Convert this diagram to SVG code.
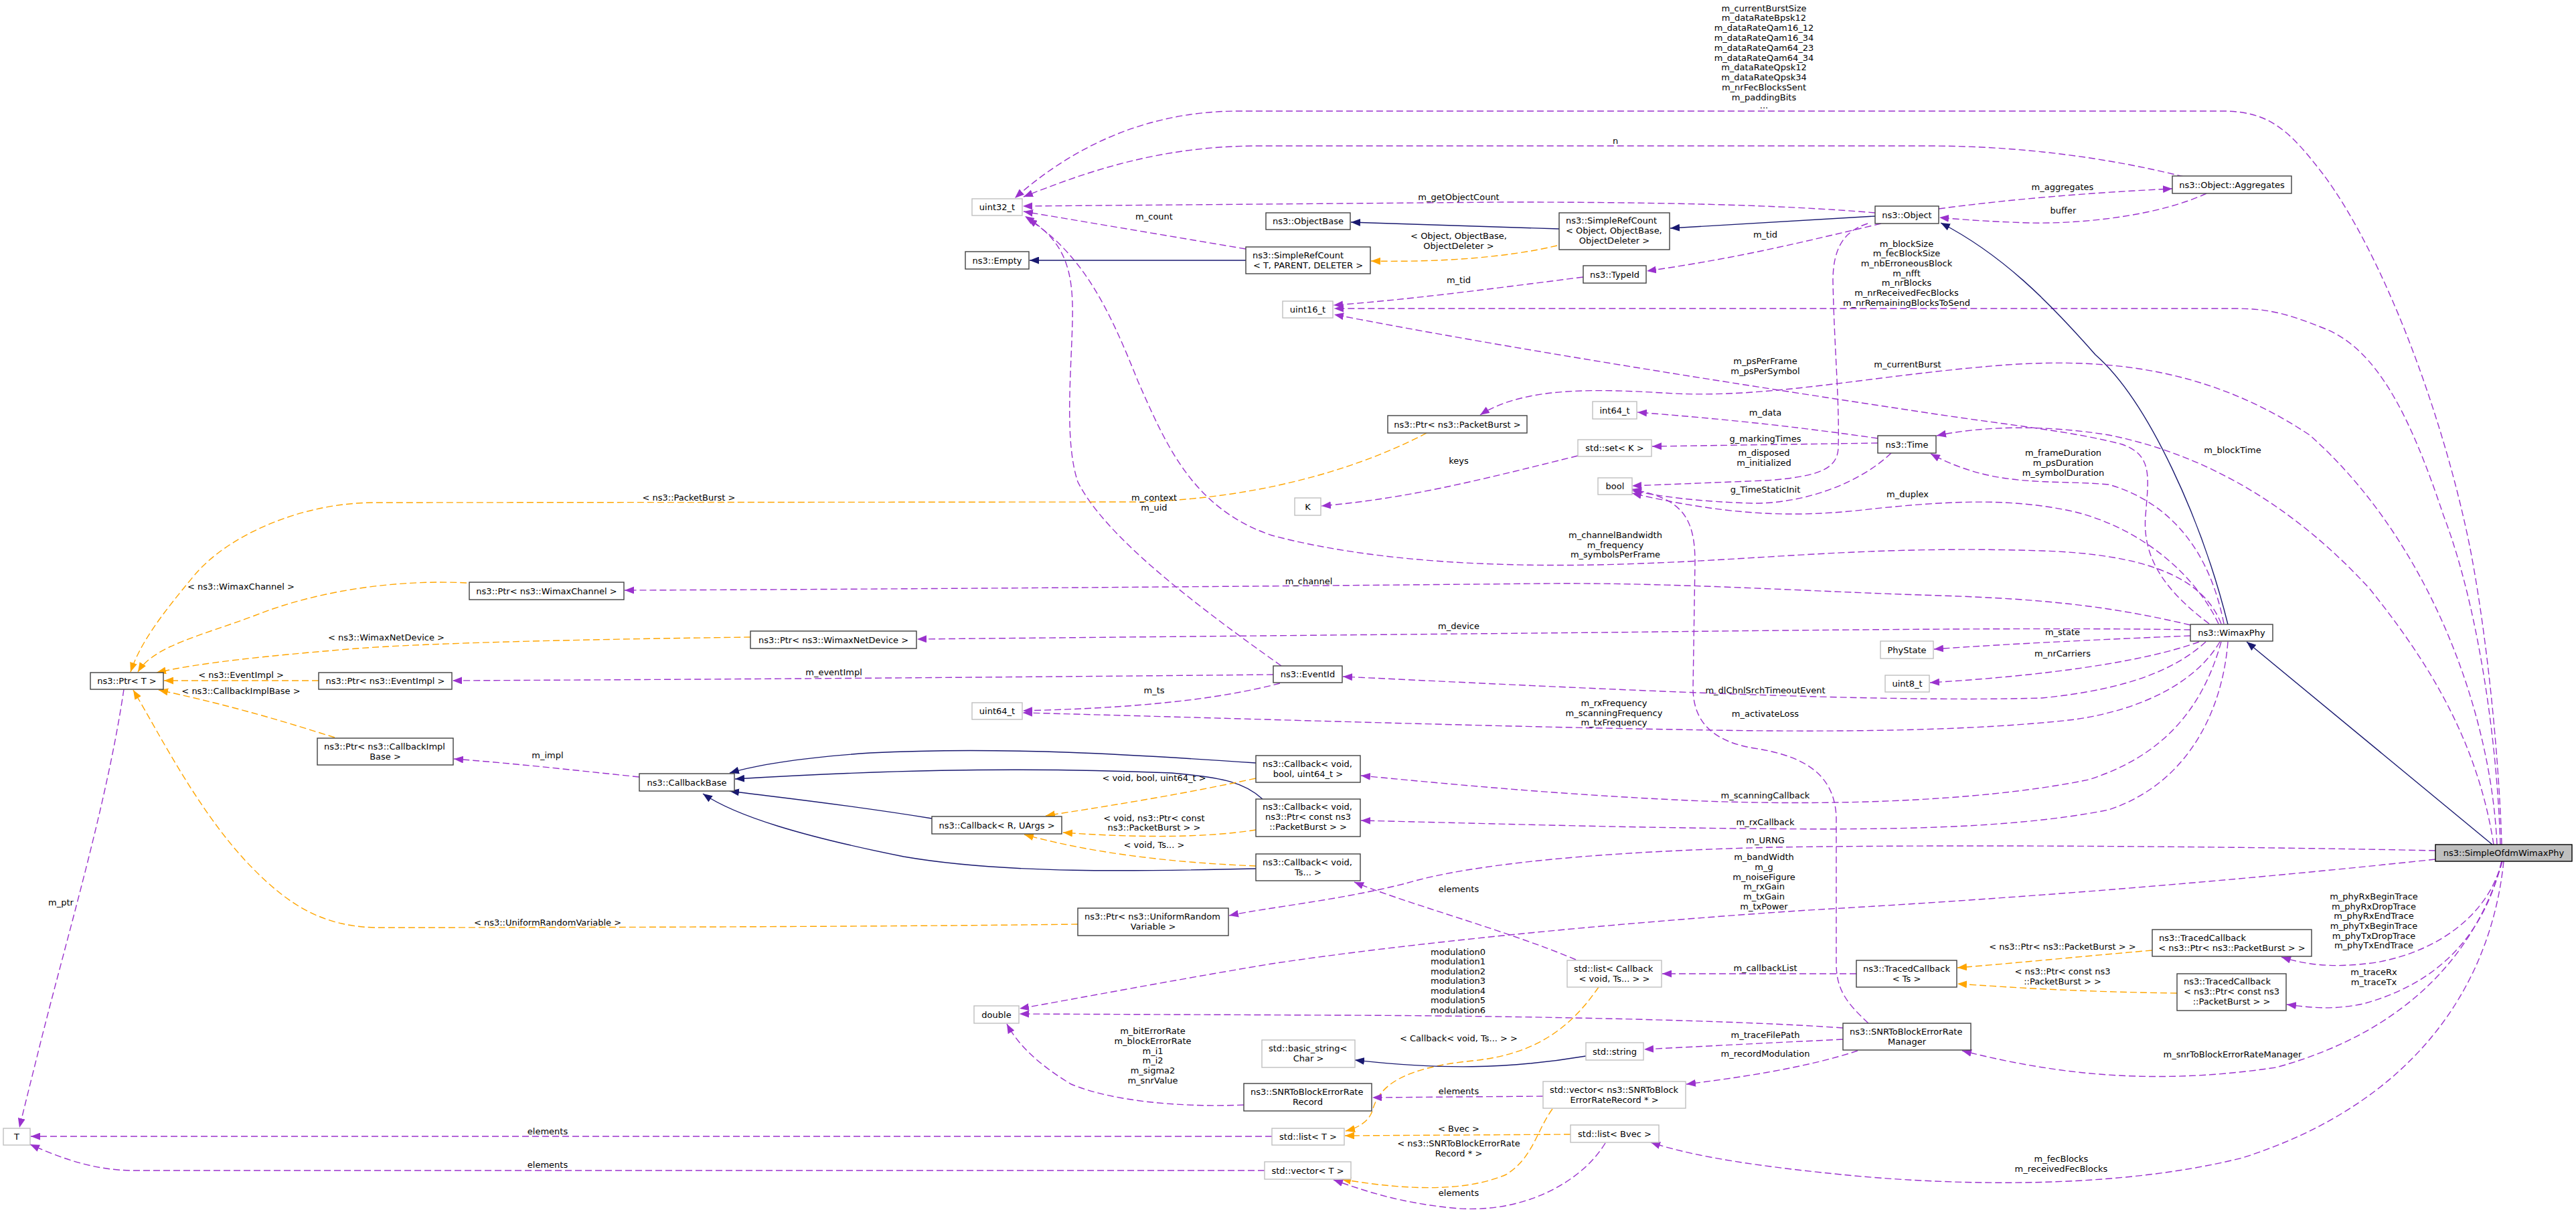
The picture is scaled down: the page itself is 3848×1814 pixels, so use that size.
<svg xmlns="http://www.w3.org/2000/svg" width="3848" height="1814" viewBox="0 0 3848 1814">
<style>
text{font-family:"DejaVu Sans","Liberation Sans",sans-serif;font-size:13px;fill:#000}
.node rect{fill:#fff;stroke:#404040;stroke-width:1.4}
.node.g rect{stroke:#bfbfbf}
.node.root rect{fill:#bfbfbf;stroke:#000}
.c{text-anchor:middle}
.ep{fill:none;stroke:#9a32cd;stroke-width:1.4;stroke-dasharray:10,5;marker-end:url(#mp)}
.eo{fill:none;stroke:#ffa500;stroke-width:1.4;stroke-dasharray:10,5;marker-end:url(#mo)}
.eb{fill:none;stroke:#191970;stroke-width:1.4;marker-end:url(#mb)}
.lbl text{text-anchor:middle}
</style>
<defs>
<marker id="mp" markerUnits="userSpaceOnUse" markerWidth="15" markerHeight="11" refX="14" refY="5.5" orient="auto"><path d="M0,0 L14,5.5 L0,11 z" fill="#9a32cd"/></marker>
<marker id="mo" markerUnits="userSpaceOnUse" markerWidth="15" markerHeight="11" refX="14" refY="5.5" orient="auto"><path d="M0,0 L14,5.5 L0,11 z" fill="#ffa500"/></marker>
<marker id="mb" markerUnits="userSpaceOnUse" markerWidth="15" markerHeight="11" refX="14" refY="5.5" orient="auto"><path d="M0,0 L14,5.5 L0,11 z" fill="#191970"/></marker>
</defs>
<rect width="3848" height="1814" fill="#fff"/>
<g id="edges">
<path class="ep" d="M3737,1262 C3733,1130 3715,950 3690,820 C3650,620 3560,380 3470,260 C3420,195 3390,166 3320,166 L1850,166 C1700,166 1590,230 1516,296"/>
<path class="ep" d="M3262,264 C3150,236 3020,218 2880,218 L1880,218 C1730,218 1620,258 1529,294"/>
<path class="ep" d="M2801,318 C2650,305 2450,302 2250,302 L1528,308"/>
<path class="ep" d="M1861,372 L1529,316"/>
<path class="ep" d="M1914,995 C1780,900 1650,800 1610,720 C1590,660 1600,560 1602,480 C1604,400 1590,360 1531,323"/>
<path class="ep" d="M3318,932 C3290,860 3200,828 3050,823 C2800,815 2650,835 2450,842 C2250,850 2050,840 1900,800 C1780,760 1740,660 1700,570 C1660,470 1620,380 1535,327"/>
<path class="ep" d="M2365,414 C2200,435 2100,448 1992,456"/>
<path class="ep" d="M3735,1262 C3730,1100 3700,900 3650,770 C3600,620 3550,520 3470,490 C3420,470 3390,461 3340,461 L1993,461"/>
<path class="ep" d="M3300,932 C3230,880 3200,830 3205,770 C3210,710 3215,680 3170,664 C3100,645 3000,635 2900,620 C2600,575 2250,520 1993,470"/>
<path class="ep" d="M2810,334 C2700,360 2600,385 2460,405"/>
<path class="eb" d="M2801,323 L2495,341"/>
<path class="eb" d="M2329,342 L2018,332"/>
<path class="eb" d="M1861,389 L1538,389"/>
<path class="eo" d="M2326,367 C2250,385 2150,392 2048,390"/>
<path class="ep" d="M2896,312 C3000,298 3120,288 3245,282"/>
<path class="ep" d="M3296,289 C3230,320 3120,335 3030,333 C2970,331 2930,328 2897,325"/>
<path class="eb" d="M3328,933 C3290,780 3210,600 3130,530 C3060,450 2990,380 2899,333"/>
<path class="eb" d="M3723,1262 L3356,959"/>
<path class="ep" d="M2805,655 C2700,640 2600,628 2446,616"/>
<path class="ep" d="M2805,662 L2468,667"/>
<path class="ep" d="M2357,681 C2200,720 2100,745 1974,756"/>
<path class="ep" d="M2825,677 C2780,720 2700,752 2620,752 C2540,750 2480,742 2438,733"/>
<path class="ep" d="M2790,334 C2755,345 2738,370 2738,420 C2740,520 2748,600 2746,670 C2744,700 2720,712 2638,718 L2438,726"/>
<path class="ep" d="M3314,932 C3280,860 3200,790 3100,765 C3000,742 2900,750 2800,760 C2700,772 2600,775 2438,737"/>
<path class="ep" d="M2791,1529 C2760,1500 2743,1480 2743,1440 L2743,1220 C2740,1160 2700,1130 2620,1118 C2560,1108 2530,1080 2529,1030 L2532,840 C2532,770 2510,745 2438,731"/>
<path class="ep" d="M3322,932 C3300,820 3240,750 3150,724 C3060,716 2980,730 2884,678"/>
<path class="ep" d="M3725,1262 C3700,1100 3620,980 3540,880 C3430,760 3300,680 3150,650 C3050,634 2960,637 2893,651"/>
<path class="ep" d="M3730,1262 C3720,1050 3620,800 3450,650 C3300,550 3150,535 3000,545 C2800,560 2650,595 2500,588 C2400,582 2280,575 2211,620"/>
<path class="eo" d="M2131,647 C2050,690 1900,745 1700,750 L560,751 C450,751 340,800 290,860 C240,920 210,960 195,1004"/>
<path class="eo" d="M697,871 C600,866 480,880 380,920 C300,950 230,965 206,1004"/>
<path class="eo" d="M1121,952 C900,955 640,960 520,970 C400,980 300,990 234,1005"/>
<path class="eo" d="M476,1017 L245,1017"/>
<path class="eo" d="M500,1102 C430,1080 350,1055 237,1031"/>
<path class="eo" d="M1610,1381 C1300,1385 800,1386 560,1386 C480,1384 430,1350 380,1300 C300,1220 240,1100 199,1031"/>
<path class="ep" d="M185,1030 C160,1200 100,1400 60,1560 C45,1620 35,1660 29,1685"/>
<path class="ep" d="M1902,1008 C1500,1012 1100,1015 676,1017"/>
<path class="ep" d="M1912,1021 C1820,1045 1700,1058 1528,1062"/>
<path class="ep" d="M3316,959 C3280,1020 3200,1060 3100,1075 C2950,1092 2750,1095 2500,1090 C2200,1085 1800,1072 1528,1065"/>
<path class="ep" d="M3295,959 C3250,1000 3180,1030 3050,1043 C2800,1050 2400,1030 2006,1011"/>
<path class="ep" d="M3285,959 C3200,990 3050,1010 2883,1020"/>
<path class="ep" d="M3272,950 C3150,955 3000,962 2889,970"/>
<path class="ep" d="M3272,941 C3100,938 2800,940 2400,945 L1370,955"/>
<path class="ep" d="M3272,934 C3150,905 3050,895 2900,890 C2700,884 2500,870 2300,872 C1900,876 1400,880 933,882"/>
<path class="ep" d="M3318,959 C3290,1060 3230,1130 3120,1165 C2950,1200 2700,1205 2500,1195 C2300,1185 2150,1170 2033,1159"/>
<path class="ep" d="M3328,959 C3320,1060 3270,1170 3150,1210 C3000,1240 2800,1240 2600,1238 C2400,1236 2200,1230 2033,1226"/>
<path class="ep" d="M955,1161 C850,1150 760,1140 678,1134"/>
<path class="eb" d="M1876,1140 C1700,1128 1500,1115 1300,1125 C1200,1132 1130,1143 1090,1155"/>
<path class="eb" d="M1886,1194 C1860,1170 1830,1162 1750,1155 C1500,1145 1300,1152 1098,1164"/>
<path class="eb" d="M1392,1223 C1250,1200 1150,1190 1090,1182"/>
<path class="eb" d="M1876,1298 C1700,1302 1500,1306 1350,1280 C1200,1250 1100,1220 1050,1186"/>
<path class="eo" d="M1876,1163 C1750,1190 1650,1205 1562,1219"/>
<path class="eo" d="M1876,1240 C1800,1252 1700,1252 1588,1244"/>
<path class="eo" d="M1876,1294 C1780,1290 1650,1280 1530,1247"/>
<path class="ep" d="M2354,1434 C2250,1390 2100,1350 2023,1318"/>
<path class="ep" d="M2773,1455 L2483,1455"/>
<path class="eo" d="M2388,1475 C2350,1530 2300,1575 2200,1585 C2100,1595 2060,1620 2050,1660 C2045,1675 2030,1685 2010,1690"/>
<path class="eo" d="M2346,1695 L2009,1697"/>
<path class="eo" d="M2319,1657 C2295,1690 2290,1730 2250,1755 C2180,1785 2080,1775 2004,1762"/>
<path class="ep" d="M2398,1708 C2360,1770 2270,1815 2170,1805 C2090,1797 2040,1780 1992,1763"/>
<path class="ep" d="M2305,1638 L2050,1640"/>
<path class="ep" d="M1900,1698 L46,1698"/>
<path class="ep" d="M1889,1749 L200,1749 C140,1749 90,1730 45,1710"/>
<path class="eb" d="M2369,1578 C2250,1598 2150,1598 2024,1584"/>
<path class="ep" d="M2753,1553 C2650,1558 2550,1563 2456,1568"/>
<path class="ep" d="M2775,1570 C2700,1595 2600,1610 2519,1620"/>
<path class="ep" d="M2753,1536 C2600,1525 2300,1518 2000,1517 L1523,1515"/>
<path class="ep" d="M1858,1651 C1760,1655 1660,1645 1600,1620 C1550,1590 1520,1560 1504,1530"/>
<path class="ep" d="M3638,1284 C3300,1320 3000,1343 2700,1360 C2400,1380 2100,1410 1900,1440 C1750,1465 1620,1490 1523,1507"/>
<path class="ep" d="M3638,1271 C3300,1264 2900,1262 2650,1266 C2400,1272 2200,1290 2100,1320 C2000,1345 1900,1355 1836,1368"/>
<path class="ep" d="M3737,1287 C3720,1360 3650,1420 3550,1438 C3480,1448 3440,1440 3408,1430"/>
<path class="ep" d="M3737,1287 C3710,1400 3640,1470 3530,1500 C3480,1510 3450,1505 3416,1501"/>
<path class="eo" d="M3215,1420 C3100,1430 3000,1440 2924,1446"/>
<path class="eo" d="M3252,1484 C3100,1482 3000,1475 2924,1470"/>
<path class="ep" d="M3738,1287 C3700,1420 3600,1540 3400,1595 C3200,1625 3050,1600 2931,1570"/>
<path class="ep" d="M3740,1287 C3720,1480 3600,1650 3350,1730 C3150,1780 2900,1770 2750,1755 C2600,1740 2520,1725 2466,1707"/>
</g>
<g id="labels" class="lbl">
<text x="2635" y="16.5">m_currentBurstSize</text>
<text x="2635" y="31.3">m_dataRateBpsk12</text>
<text x="2635" y="46.1">m_dataRateQam16_12</text>
<text x="2635" y="60.9">m_dataRateQam16_34</text>
<text x="2635" y="75.7">m_dataRateQam64_23</text>
<text x="2635" y="90.5">m_dataRateQam64_34</text>
<text x="2635" y="105.3">m_dataRateQpsk12</text>
<text x="2635" y="120.1">m_dataRateQpsk34</text>
<text x="2635" y="134.9">m_nrFecBlocksSent</text>
<text x="2635" y="149.7">m_paddingBits</text>
<text x="2635" y="162">...</text>
<text x="2413" y="215">n</text>
<text x="2179" y="299">m_getObjectCount</text>
<text x="1724" y="328">m_count</text>
<text x="2179" y="356.5">&lt; Object, ObjectBase,</text>
<text x="2179" y="371.5">ObjectDeleter &gt;</text>
<text x="2637" y="354.5">m_tid</text>
<text x="2179" y="422.5">m_tid</text>
<text x="3081" y="283.5">m_aggregates</text>
<text x="3082" y="318.5">buffer</text>
<text x="2848" y="368.5">m_blockSize</text>
<text x="2848" y="383.2">m_fecBlockSize</text>
<text x="2848" y="397.9">m_nbErroneousBlock</text>
<text x="2848" y="412.6">m_nfft</text>
<text x="2848" y="427.3">m_nrBlocks</text>
<text x="2848" y="442">m_nrReceivedFecBlocks</text>
<text x="2848" y="456.7">m_nrRemainingBlocksToSend</text>
<text x="2637" y="544">m_psPerFrame</text>
<text x="2637" y="559">m_psPerSymbol</text>
<text x="2849.5" y="549">m_currentBurst</text>
<text x="2637" y="621">m_data</text>
<text x="2637" y="660">g_markingTimes</text>
<text x="2635" y="680.5">m_disposed</text>
<text x="2635" y="695.5">m_initialized</text>
<text x="2179" y="692.5">keys</text>
<text x="2637" y="736">g_TimeStaticInit</text>
<text x="2849.5" y="743">m_duplex</text>
<text x="3082" y="681">m_frameDuration</text>
<text x="3082" y="696">m_psDuration</text>
<text x="3082" y="711">m_symbolDuration</text>
<text x="3335" y="676.5">m_blockTime</text>
<text x="1029" y="748">&lt; ns3::PacketBurst &gt;</text>
<text x="1724" y="748">m_context</text>
<text x="1724" y="763">m_uid</text>
<text x="2413" y="804">m_channelBandwidth</text>
<text x="2413" y="819">m_frequency</text>
<text x="2413" y="833">m_symbolsPerFrame</text>
<text x="360" y="880.5">&lt; ns3::WimaxChannel &gt;</text>
<text x="1955" y="873">m_channel</text>
<text x="2179" y="940">m_device</text>
<text x="577" y="956.5">&lt; ns3::WimaxNetDevice &gt;</text>
<text x="3081" y="949">m_state</text>
<text x="3081" y="981">m_nrCarriers</text>
<text x="360" y="1013">&lt; ns3::EventImpl &gt;</text>
<text x="1245.5" y="1009">m_eventImpl</text>
<text x="360" y="1037">&lt; ns3::CallbackImplBase &gt;</text>
<text x="1724" y="1035.5">m_ts</text>
<text x="2637" y="1036">m_dlChnlSrchTimeoutEvent</text>
<text x="2411" y="1055">m_rxFrequency</text>
<text x="2411" y="1070">m_scanningFrequency</text>
<text x="2411" y="1084">m_txFrequency</text>
<text x="2637" y="1071">m_activateLoss</text>
<text x="818" y="1132.5">m_impl</text>
<text x="1724" y="1166.5">&lt; void, bool, uint64_t &gt;</text>
<text x="2637" y="1192.5">m_scanningCallback</text>
<text x="1724" y="1226.5">&lt; void, ns3::Ptr&lt; const</text>
<text x="1724" y="1241">ns3::PacketBurst &gt; &gt;</text>
<text x="2637" y="1233">m_rxCallback</text>
<text x="2637" y="1260">m_URNG</text>
<text x="1724" y="1266.5">&lt; void, Ts... &gt;</text>
<text x="2635" y="1285">m_bandWidth</text>
<text x="2635" y="1300">m_g</text>
<text x="2635" y="1315">m_noiseFigure</text>
<text x="2635" y="1329">m_rxGain</text>
<text x="2635" y="1344">m_txGain</text>
<text x="2635" y="1359">m_txPower</text>
<text x="2179" y="1333">elements</text>
<text x="91" y="1353">m_ptr</text>
<text x="818" y="1382.5">&lt; ns3::UniformRandomVariable &gt;</text>
<text x="3546" y="1344">m_phyRxBeginTrace</text>
<text x="3546" y="1359">m_phyRxDropTrace</text>
<text x="3546" y="1373">m_phyRxEndTrace</text>
<text x="3546" y="1388">m_phyTxBeginTrace</text>
<text x="3546" y="1403">m_phyTxDropTrace</text>
<text x="3546" y="1417">m_phyTxEndTrace</text>
<text x="3081" y="1419">&lt; ns3::Ptr&lt; ns3::PacketBurst &gt; &gt;</text>
<text x="2178" y="1426.5">modulation0</text>
<text x="2178" y="1441">modulation1</text>
<text x="2178" y="1455.5">modulation2</text>
<text x="2178" y="1470">modulation3</text>
<text x="2178" y="1484.5">modulation4</text>
<text x="2178" y="1499">modulation5</text>
<text x="2178" y="1514">modulation6</text>
<text x="2637" y="1451">m_callbackList</text>
<text x="3081" y="1456">&lt; ns3::Ptr&lt; const ns3</text>
<text x="3081" y="1471">::PacketBurst &gt; &gt;</text>
<text x="3546" y="1457">m_traceRx</text>
<text x="3546" y="1472">m_traceTx</text>
<text x="1722" y="1544.5">m_bitErrorRate</text>
<text x="1722" y="1559.5">m_blockErrorRate</text>
<text x="1722" y="1574.5">m_i1</text>
<text x="1722" y="1589">m_i2</text>
<text x="1722" y="1604">m_sigma2</text>
<text x="1722" y="1618.5">m_snrValue</text>
<text x="2637" y="1551">m_traceFilePath</text>
<text x="2179" y="1555.5">&lt; Callback&lt; void, Ts... &gt; &gt;</text>
<text x="2637" y="1579">m_recordModulation</text>
<text x="3335" y="1580">m_snrToBlockErrorRateManager</text>
<text x="2179" y="1635">elements</text>
<text x="2179" y="1690.5">&lt; Bvec &gt;</text>
<text x="818" y="1694.5">elements</text>
<text x="2179" y="1713">&lt; ns3::SNRToBlockErrorRate</text>
<text x="2179" y="1728">Record * &gt;</text>
<text x="3079" y="1735.5">m_fecBlocks</text>
<text x="3079" y="1750.5">m_receivedFecBlocks</text>
<text x="818" y="1744.5">elements</text>
<text x="2179" y="1786.5">elements</text>
</g>
<g id="n_uint32" class="node g"><rect x="1452" y="297" width="75" height="25"/><text class="c" x="1489.5" y="314">uint32_t</text></g>
<g id="n_empty" class="node"><rect x="1442" y="376" width="95" height="26"/><text class="c" x="1489.5" y="393.5">ns3::Empty</text></g>
<g id="n_srcT" class="node"><rect x="1861" y="369" width="186" height="40"/><text x="1871" y="385.5">ns3::SimpleRefCount</text><text class="c" x="1954" y="400.5">&lt; T, PARENT, DELETER &gt;</text></g>
<g id="n_objectbase" class="node"><rect x="1891" y="318" width="126" height="25"/><text class="c" x="1954" y="335">ns3::ObjectBase</text></g>
<g id="n_srcObject" class="node"><rect x="2329" y="318" width="165" height="55"/><text x="2339" y="334">ns3::SimpleRefCount</text><text x="2339" y="349">&lt; Object, ObjectBase,</text><text class="c" x="2411.5" y="364">ObjectDeleter &gt;</text></g>
<g id="n_object" class="node"><rect x="2801" y="308" width="95" height="26"/><text class="c" x="2848.5" y="325.5">ns3::Object</text></g>
<g id="n_aggregates" class="node"><rect x="3245" y="263" width="178" height="26"/><text class="c" x="3334" y="280.5">ns3::Object::Aggregates</text></g>
<g id="n_typeid" class="node"><rect x="2365" y="397" width="94" height="26"/><text class="c" x="2412" y="414.5">ns3::TypeId</text></g>
<g id="n_uint16" class="node g"><rect x="1916" y="450" width="75" height="25"/><text class="c" x="1953.5" y="467">uint16_t</text></g>
<g id="n_int64" class="node g"><rect x="2379" y="600" width="66" height="26"/><text class="c" x="2412" y="617.5">int64_t</text></g>
<g id="n_ptrPB" class="node"><rect x="2073" y="621" width="208" height="26"/><text class="c" x="2177" y="638.5">ns3::Ptr&lt; ns3::PacketBurst &gt;</text></g>
<g id="n_setK" class="node g"><rect x="2357" y="657" width="110" height="25"/><text class="c" x="2412" y="674">std::set&lt; K &gt;</text></g>
<g id="n_K" class="node g"><rect x="1934" y="744" width="39" height="26"/><text class="c" x="1953.5" y="761.5">K</text></g>
<g id="n_bool" class="node g"><rect x="2387" y="714" width="51" height="25"/><text class="c" x="2412.5" y="731">bool</text></g>
<g id="n_time" class="node"><rect x="2805" y="651" width="87" height="26"/><text class="c" x="2848.5" y="668.5">ns3::Time</text></g>
<g id="n_phystate" class="node g"><rect x="2809" y="958" width="79" height="26"/><text class="c" x="2848.5" y="975.5">PhyState</text></g>
<g id="n_uint8" class="node g"><rect x="2816" y="1009" width="66" height="25"/><text class="c" x="2849" y="1026">uint8_t</text></g>
<g id="n_wimaxphy" class="node"><rect x="3272" y="933" width="123" height="25"/><text class="c" x="3333.5" y="950">ns3::WimaxPhy</text></g>
<g id="n_ptrWC" class="node"><rect x="701" y="870" width="231" height="26"/><text class="c" x="816.5" y="887.5">ns3::Ptr&lt; ns3::WimaxChannel &gt;</text></g>
<g id="n_ptrWND" class="node"><rect x="1121" y="943" width="248" height="26"/><text class="c" x="1245" y="960.5">ns3::Ptr&lt; ns3::WimaxNetDevice &gt;</text></g>
<g id="n_ptrT" class="node"><rect x="135" y="1005" width="109" height="25"/><text class="c" x="189.5" y="1022">ns3::Ptr&lt; T &gt;</text></g>
<g id="n_ptrEI" class="node"><rect x="476" y="1005" width="199" height="25"/><text class="c" x="575.5" y="1022">ns3::Ptr&lt; ns3::EventImpl &gt;</text></g>
<g id="n_eventid" class="node"><rect x="1902" y="995" width="103" height="25"/><text class="c" x="1953.5" y="1012">ns3::EventId</text></g>
<g id="n_uint64" class="node g"><rect x="1452" y="1050" width="75" height="25"/><text class="c" x="1489.5" y="1067">uint64_t</text></g>
<g id="n_ptrCIB" class="node"><rect x="474" y="1103" width="203" height="40"/><text x="484" y="1119.5">ns3::Ptr&lt; ns3::CallbackImpl</text><text class="c" x="575.5" y="1134.5">Base &gt;</text></g>
<g id="n_cbbase" class="node"><rect x="955" y="1156" width="142" height="26"/><text class="c" x="1026" y="1173.5">ns3::CallbackBase</text></g>
<g id="n_cbBool" class="node"><rect x="1876" y="1129" width="156" height="40"/><text x="1886" y="1145.5">ns3::Callback&lt; void,</text><text class="c" x="1954" y="1160.5">bool, uint64_t &gt;</text></g>
<g id="n_cbPtr" class="node"><rect x="1876" y="1194" width="156" height="56"/><text x="1886" y="1210">ns3::Callback&lt; void,</text><text x="1890" y="1225">ns3::Ptr&lt; const ns3</text><text class="c" x="1954" y="1240">::PacketBurst &gt; &gt;</text></g>
<g id="n_cbRU" class="node"><rect x="1392" y="1220" width="194" height="26"/><text class="c" x="1489" y="1237.5">ns3::Callback&lt; R, UArgs &gt;</text></g>
<g id="n_cbTs" class="node"><rect x="1876" y="1276" width="156" height="40"/><text x="1886" y="1292.5">ns3::Callback&lt; void,</text><text class="c" x="1954" y="1307.5">Ts... &gt;</text></g>
<g id="n_ptrURV" class="node"><rect x="1610" y="1357" width="225" height="41"/><text x="1620" y="1373.5">ns3::Ptr&lt; ns3::UniformRandom</text><text class="c" x="1722.5" y="1388.5">Variable &gt;</text></g>
<g id="n_double" class="node g"><rect x="1455" y="1503" width="67" height="26"/><text class="c" x="1488.5" y="1520.5">double</text></g>
<g id="n_basicstring" class="node g"><rect x="1885" y="1554" width="139" height="41"/><text x="1895" y="1570.5">std::basic_string&lt;</text><text class="c" x="1954.5" y="1585.5">Char &gt;</text></g>
<g id="n_record" class="node"><rect x="1858" y="1619" width="191" height="41"/><text x="1868" y="1635.5">ns3::SNRToBlockErrorRate</text><text class="c" x="1953.5" y="1650.5">Record</text></g>
<g id="n_listT" class="node g"><rect x="1900" y="1686" width="108" height="25"/><text class="c" x="1954" y="1703">std::list&lt; T &gt;</text></g>
<g id="n_vectorT" class="node g"><rect x="1889" y="1736" width="129" height="26"/><text class="c" x="1953.5" y="1753.5">std::vector&lt; T &gt;</text></g>
<g id="n_T" class="node g"><rect x="5" y="1686" width="40" height="25"/><text class="c" x="25" y="1703">T</text></g>
<g id="n_listCb" class="node g"><rect x="2341" y="1435" width="141" height="40"/><text x="2351" y="1451.5">std::list&lt; Callback</text><text class="c" x="2411.5" y="1466.5">&lt; void, Ts... &gt; &gt;</text></g>
<g id="n_tcTs" class="node"><rect x="2773" y="1435" width="150" height="40"/><text x="2783" y="1451.5">ns3::TracedCallback</text><text class="c" x="2848" y="1466.5">&lt; Ts &gt;</text></g>
<g id="n_manager" class="node"><rect x="2753" y="1529" width="191" height="40"/><text x="2763" y="1545.5">ns3::SNRToBlockErrorRate</text><text class="c" x="2848.5" y="1560.5">Manager</text></g>
<g id="n_string" class="node g"><rect x="2369" y="1558" width="86" height="26"/><text class="c" x="2412" y="1575.5">std::string</text></g>
<g id="n_vectorRec" class="node g"><rect x="2305" y="1616" width="213" height="40"/><text x="2315" y="1632.5">std::vector&lt; ns3::SNRToBlock</text><text class="c" x="2411.5" y="1647.5">ErrorRateRecord * &gt;</text></g>
<g id="n_listBvec" class="node g"><rect x="2346" y="1681" width="132" height="26"/><text class="c" x="2412" y="1698.5">std::list&lt; Bvec &gt;</text></g>
<g id="n_tcPB" class="node"><rect x="3215" y="1389" width="238" height="40"/><text x="3225" y="1405.5">ns3::TracedCallback</text><text class="c" x="3334" y="1420.5">&lt; ns3::Ptr&lt; ns3::PacketBurst &gt; &gt;</text></g>
<g id="n_tcConstPB" class="node"><rect x="3252" y="1455" width="163" height="55"/><text x="3262" y="1471">ns3::TracedCallback</text><text x="3262" y="1486">&lt; ns3::Ptr&lt; const ns3</text><text class="c" x="3333.5" y="1501">::PacketBurst &gt; &gt;</text></g>
<g id="n_root" class="node root"><rect x="3638" y="1262" width="204" height="25"/><text class="c" x="3740" y="1279">ns3::SimpleOfdmWimaxPhy</text></g>
</svg>
